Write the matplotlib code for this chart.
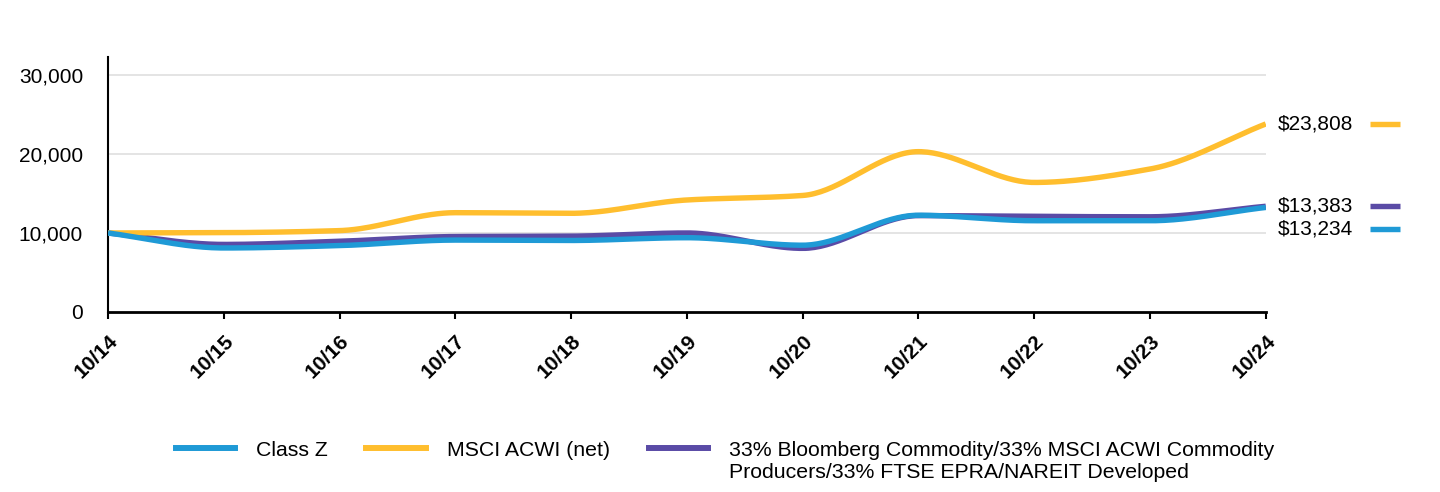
import numpy as np
import matplotlib.pyplot as plt
from matplotlib.lines import Line2D
from matplotlib.transforms import ScaledTranslation

plt.rcParams['font.family'] = ['Liberation Sans', 'DejaVu Sans']

years = ['10/14', '10/15', '10/16', '10/17', '10/18', '10/19',
         '10/20', '10/21', '10/22', '10/23', '10/24']
classZ = [10000, 8100, 8400, 9100, 9050, 9400, 8450, 12250, 11550, 11550, 13234]
msci = [10000, 10040, 10300, 12570, 12490, 14180, 14750, 20300, 16400, 18100, 23808]
blend = [10000, 8550, 8950, 9550, 9600, 10000, 8050, 12200, 12100, 12050, 13383]

names = ['Class Z', 'MSCI ACWI (net)',
         '33% Bloomberg Commodity/33% MSCI ACWI Commodity']
extraLine = 'Producers/33% FTSE EPRA/NAREIT Developed'
colors = ['#1f9ad6', '#ffbe2e', '#5a4ba6']
endLabels = ['$13,234', '$23,808', '$13,383']


def monotone(x, y, n=40):
    # monotone cubic curve through the points, just for drawing
    x = np.asarray(x, float)
    y = np.asarray(y, float)
    h = np.diff(x)
    d = np.diff(y) / h
    m = np.zeros(len(y))
    m[0], m[-1] = d[0], d[-1]
    for i in range(1, len(y) - 1):
        if d[i - 1] * d[i] > 0:
            m[i] = 3 * (h[i - 1] + h[i]) / ((2 * h[i] + h[i - 1]) / d[i - 1] + (h[i] + 2 * h[i - 1]) / d[i])
    xs, ys = [], []
    for i in range(len(h)):
        t = np.linspace(0, 1, n)
        h00 = 2 * t**3 - 3 * t**2 + 1
        h10 = t**3 - 2 * t**2 + t
        h01 = -2 * t**3 + 3 * t**2
        h11 = t**3 - t**2
        xs.append(x[i] + t * h[i])
        ys.append(h00 * y[i] + h10 * h[i] * m[i] + h01 * y[i + 1] + h11 * h[i] * m[i + 1])
    return np.concatenate(xs), np.concatenate(ys)


fig = plt.figure(figsize=(14.4, 4.92), dpi=100)
ax = fig.add_axes([0.075, 0.366, 0.804, 0.518])

x = np.arange(len(years))
series = [classZ, msci, blend]
for idx in [2, 1, 0]:
    xs, ys = monotone(x, series[idx])
    ax.plot(xs, ys, color=colors[idx], lw=3.9, solid_capstyle='butt', zorder=3)

ax.set_xlim(0, len(years) - 1)
ax.set_ylim(0, 32280)
ax.set_yticks([0, 10000, 20000, 30000])
ax.set_yticklabels(['0', '10,000', '20,000', '30,000'], fontsize=15)
ax.set_xticks(x)
ax.set_xticklabels(years, rotation=45, ha='right', rotation_mode='anchor',
                   fontsize=15, fontweight='bold')
shift = ScaledTranslation(-6 / 72, 0, fig.dpi_scale_trans)
for lab in ax.get_xticklabels():
    lab.set_transform(lab.get_transform() + shift)
ax.tick_params(axis='y', length=0, pad=18)
ax.tick_params(axis='x', length=5, width=1.5, pad=9)
ax.grid(axis='y', color='#e2e2e2', lw=1.3)
for yl in ax.get_ygridlines()[:1]:
    yl.set_visible(False)
ax.spines['top'].set_visible(False)
ax.spines['right'].set_visible(False)
ax.spines['left'].set_linewidth(1.5)
ax.spines['bottom'].set_linewidth(2)

# end value labels on the right
labelY = [10500, 23808, 13383]
for i in range(3):
    ax.annotate(endLabels[i], xy=(1.0, labelY[i]), xycoords=('axes fraction', 'data'),
                xytext=(9, 0), textcoords='offset points', va='center', ha='left',
                fontsize=15, annotation_clip=False)
    yy = ax.transData.transform((0, labelY[i]))[1] / fig.bbox.height
    fig.add_artist(Line2D([1370 / 1440, 1400 / 1440], [yy, yy], color=colors[i], lw=3.9,
                          solid_capstyle='butt'))

handles = [Line2D([], [], color=c, lw=4.3) for c in colors]
leg = fig.legend(handles, names, loc='center', bbox_to_anchor=(0.5035, 1 - 450 / 492), ncol=3,
                 frameon=False, fontsize=15.3, handlelength=2.8, columnspacing=1.8,
                 handletextpad=1.0)

# second line of the long legend label, under the first
fig.canvas.draw()
bb = leg.get_texts()[2].get_window_extent()
fig.text(bb.x0 / fig.bbox.width, (bb.y0 - 22) / fig.bbox.height, extraLine,
         fontsize=15.3, ha='left', va='bottom')

fig.savefig('out.png', dpi=100)
